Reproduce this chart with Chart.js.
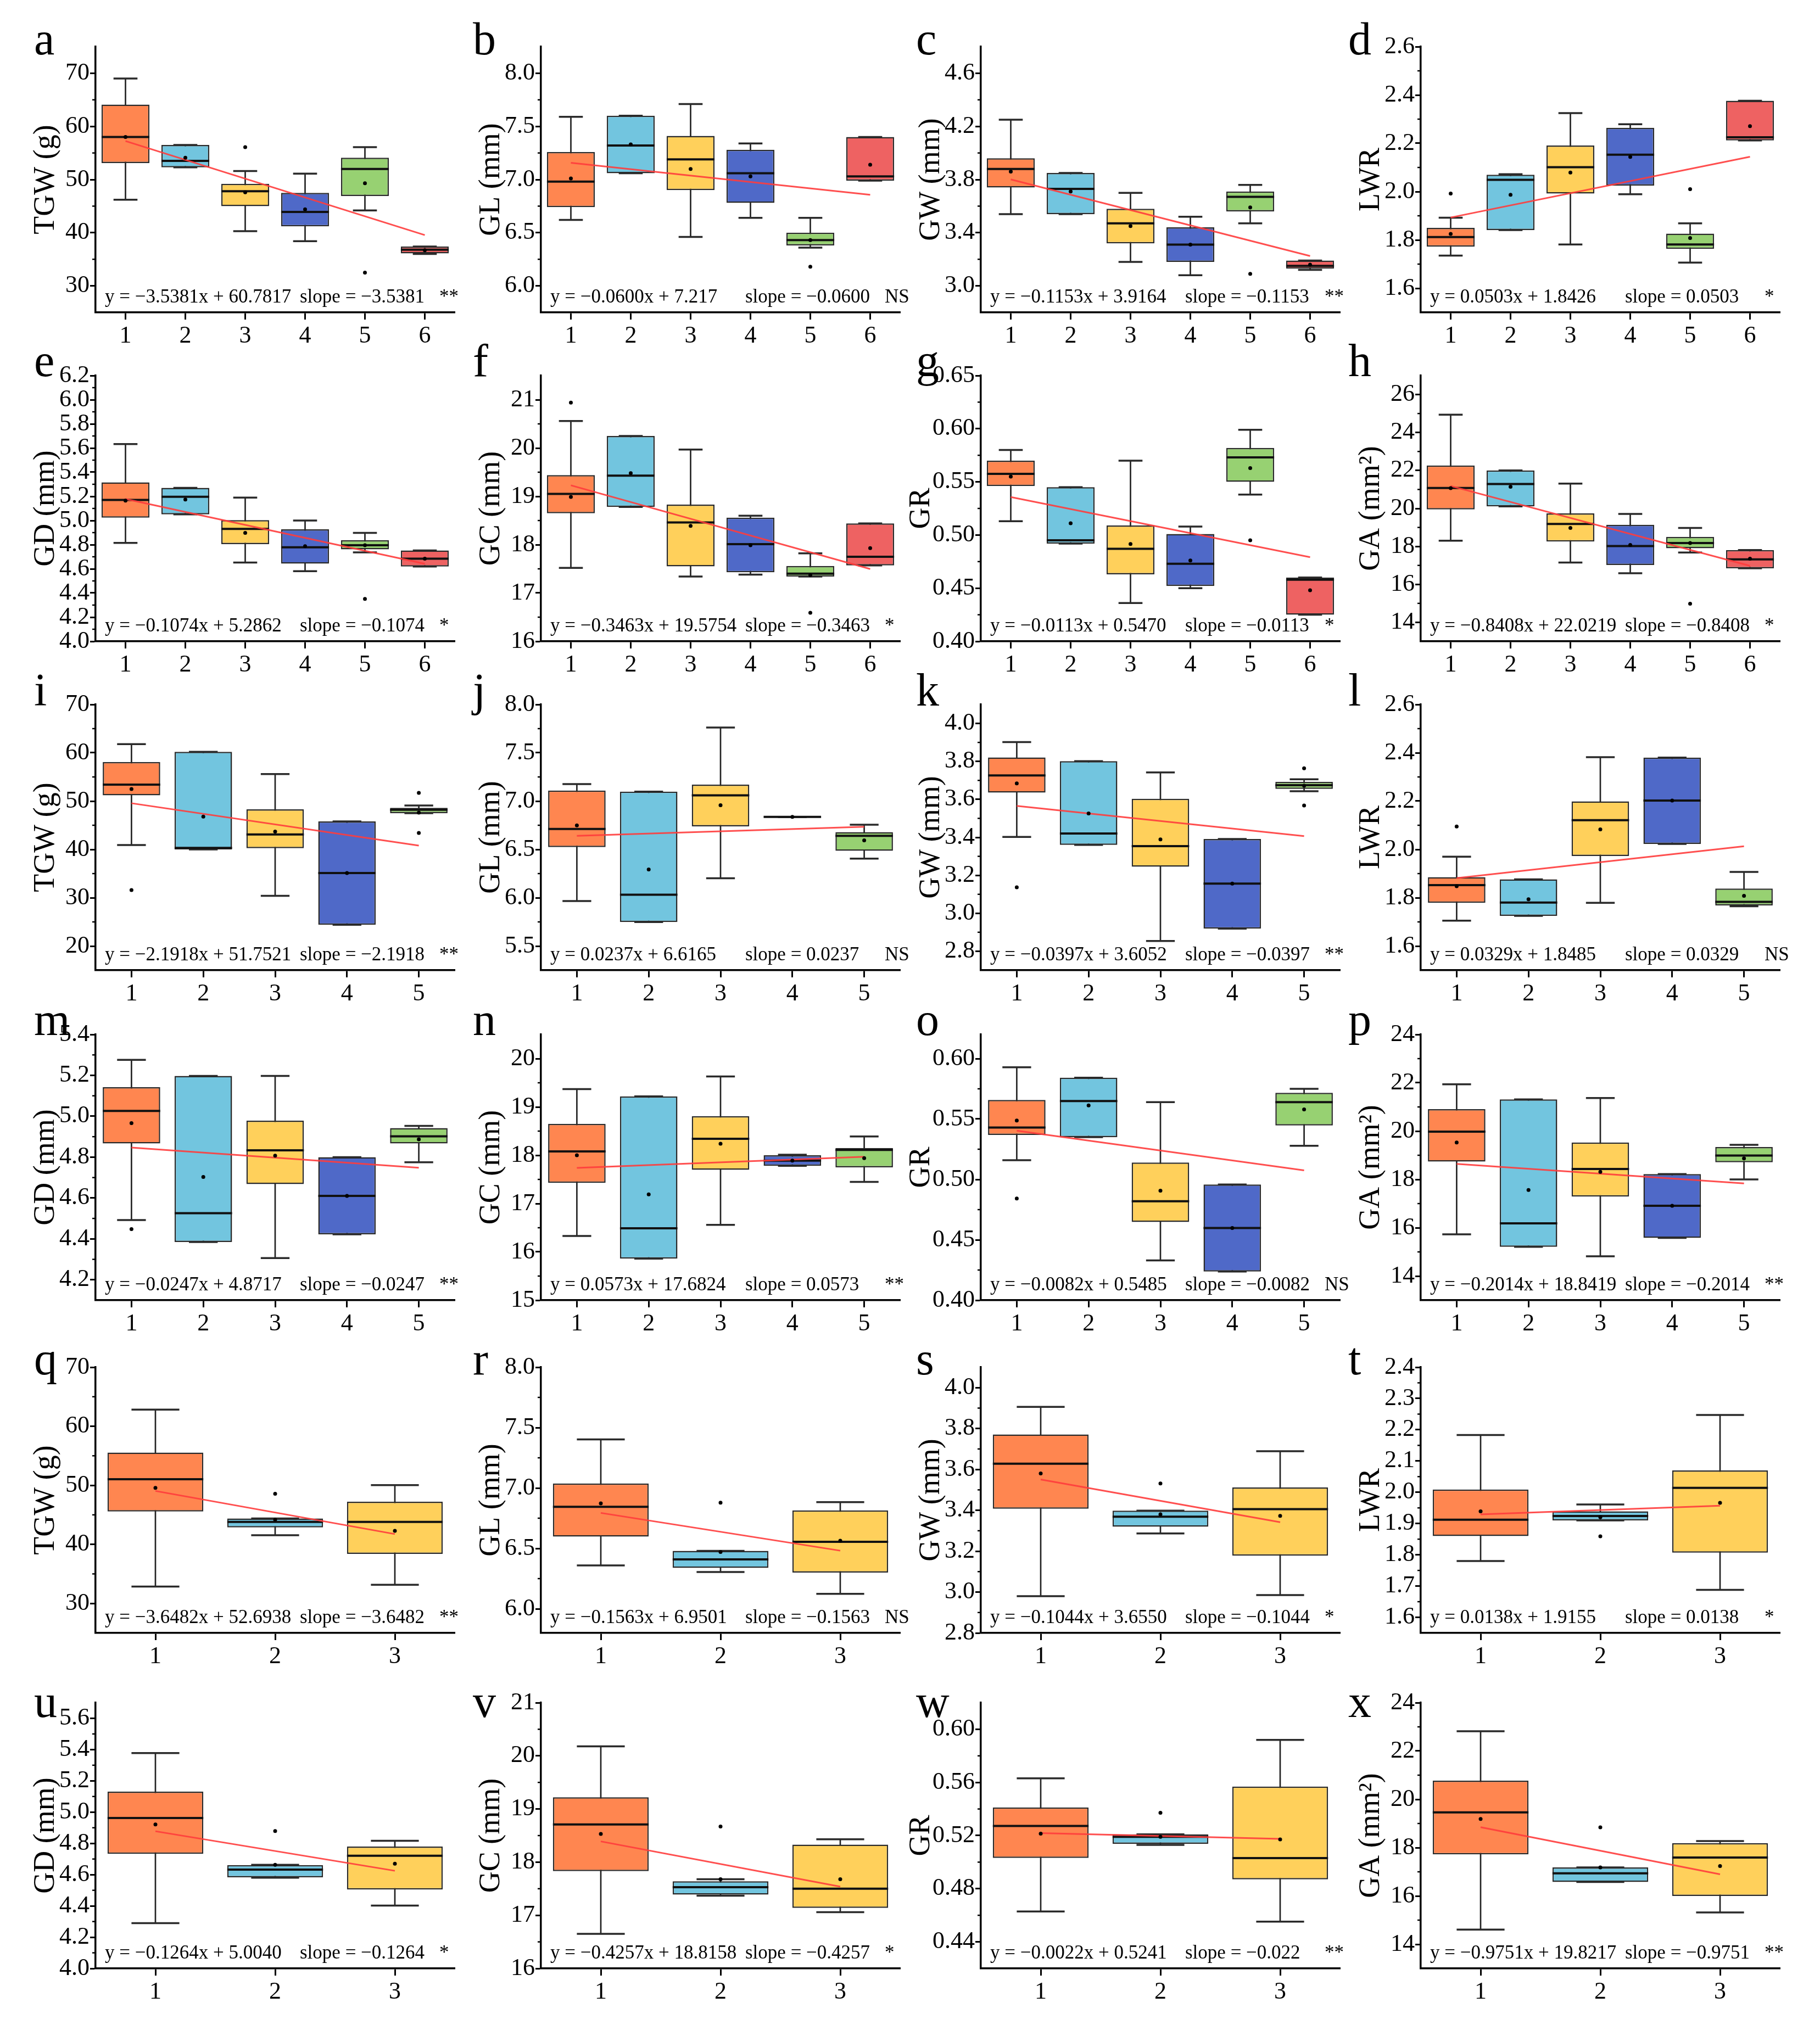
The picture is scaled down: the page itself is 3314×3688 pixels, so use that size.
<!DOCTYPE html>
<html>
<head>
<meta charset="utf-8">
<title>Grain traits by group</title>
<script src="https://cdn.jsdelivr.net/npm/chart.js@4.4.1/dist/chart.umd.min.js"></script>
<style>
  html, body { margin: 0; padding: 0; background: #fff; }
  #figure { position: relative; width: 3314px; height: 3688px; overflow: hidden; background: #fff; }
  #figure canvas { position: absolute; }
</style>
</head>
<body>
<div id="figure"></div>
<script>
// panel letters, y titles and x categories
const panelLetters = ['a','b','c','d','e','f','g','h','i','j','k','l','m','n','o','p','q','r','s','t','u','v','w','x'];
const yTitles = ['TGW (g)', 'GL (mm)', 'GW (mm)', 'LWR', 'GD (mm)', 'GC (mm)', 'GR', 'GA (mm²)',
                 'TGW (g)', 'GL (mm)', 'GW (mm)', 'LWR', 'GD (mm)', 'GC (mm)', 'GR', 'GA (mm²)',
                 'TGW (g)', 'GL (mm)', 'GW (mm)', 'LWR', 'GD (mm)', 'GC (mm)', 'GR', 'GA (mm²)'];
const categoryLabels = ['1', '2', '3', '4', '5', '6'];
const groupCounts = [6,6,6,6, 6,6,6,6, 5,5,5,5, 5,5,5,5, 3,3,3,3, 3,3,3,3];

// box statistics, one list per panel
const whiskerLow = [
  [46.2, 52.3, 40.3, 38.4, 44.2, 36.0], [6.62, 7.06, 6.46, 6.64, 6.36, 6.99],
  [3.54, 3.54, 3.18, 3.08, 3.47, 3.12], [1.735, 1.841, 1.781, 1.989, 1.706, 2.212],
  [4.815, 5.051, 4.652, 4.581, 4.736, 4.619], [17.52, 18.78, 17.34, 17.38, 17.34, 17.57],
  [0.513, 0.492, 0.436, 0.450, 0.538, 0.425], [18.30, 20.11, 17.15, 16.59, 17.68, 16.85],
  [40.9, 40.0, 30.4, 24.4, 47.5], [5.966, 5.748, 6.202, 6.837, 6.405],
  [3.402, 3.360, 2.854, 2.919, 3.643], [1.705, 1.725, 1.779, 2.023, 1.765],
  [4.492, 4.385, 4.306, 4.422, 4.775], [16.33, 15.86, 16.56, 17.78, 17.45],
  [0.5159, 0.5350, 0.4329, 0.4238, 0.5278], [15.73, 15.21, 14.82, 15.58, 18.0],
  [32.86, 41.56, 33.16], [6.359, 6.305, 6.124], [2.980, 3.287, 2.985], [1.780, 1.910, 1.688],
  [4.290, 4.580, 4.402], [16.65, 17.37, 17.06], [0.4629, 0.5130, 0.4552], [14.61, 16.58, 15.32]
];
const quartile1 = [
  [53.1, 52.3, 45.0, 41.2, 46.9, 36.1], [6.74, 7.06, 6.90, 6.78, 6.38, 6.99],
  [3.74, 3.54, 3.32, 3.18, 3.56, 3.13], [1.772, 1.841, 1.992, 2.025, 1.763, 2.212],
  [5.024, 5.051, 4.805, 4.643, 4.761, 4.619], [18.65, 18.78, 17.55, 17.43, 17.34, 17.57],
  [0.546, 0.492, 0.463, 0.452, 0.550, 0.425], [19.95, 20.11, 18.26, 17.02, 17.90, 16.85],
  [51.2, 40.0, 40.25, 24.4, 47.5], [6.524, 5.748, 6.738, 6.837, 6.486],
  [3.636, 3.360, 3.245, 2.919, 3.655], [1.779, 1.725, 1.973, 2.023, 1.768],
  [4.867, 4.385, 4.668, 4.422, 4.867], [17.43, 15.86, 17.70, 17.78, 17.75],
  [0.5368, 0.5350, 0.4648, 0.4238, 0.5447], [18.74, 15.21, 17.29, 15.58, 18.71],
  [45.56, 42.88, 38.40], [6.598, 6.339, 6.300], [3.408, 3.320, 3.178], [1.860, 1.910, 1.807],
  [4.733, 4.583, 4.505], [17.83, 17.39, 17.14], [0.5032, 0.5138, 0.4870], [17.72, 16.58, 16.00]
];
const medians = [
  [58.0, 53.5, 47.8, 43.9, 52.0, 36.8], [6.98, 7.32, 7.19, 7.06, 6.43, 7.03],
  [3.88, 3.73, 3.47, 3.31, 3.67, 3.15], [1.812, 2.049, 2.101, 2.153, 1.781, 2.225],
  [5.17, 5.197, 4.931, 4.778, 4.796, 4.684], [19.05, 19.43, 18.46, 18.01, 17.40, 17.75],
  [0.5575, 0.495, 0.487, 0.473, 0.573, 0.458], [21.08, 21.29, 19.18, 18.02, 18.18, 17.32],
  [53.4, 40.3, 43.1, 35.1, 48.2], [6.711, 6.031, 7.059, 6.837, 6.641],
  [3.726, 3.420, 3.354, 3.156, 3.675], [1.852, 1.780, 2.121, 2.202, 1.783],
  [5.026, 4.526, 4.833, 4.610, 4.902], [18.08, 16.49, 18.34, 17.89, 18.11],
  [0.5429, 0.5649, 0.4819, 0.4598, 0.5640], [19.98, 16.18, 18.43, 16.91, 18.99],
  [51.03, 43.80, 43.80], [6.844, 6.409, 6.555], [3.628, 3.369, 3.406], [1.912, 1.924, 2.014],
  [4.962, 4.632, 4.721], [18.71, 17.53, 17.50], [0.5272, 0.5191, 0.5031], [19.46, 16.94, 17.59]
];
const quartile3 = [
  [64.1, 56.5, 49.2, 47.5, 54.1, 37.4], [7.26, 7.60, 7.41, 7.28, 6.50, 7.40],
  [3.96, 3.85, 3.58, 3.44, 3.71, 3.19], [1.850, 2.070, 2.191, 2.264, 1.826, 2.376],
  [5.316, 5.271, 5.003, 4.927, 4.837, 4.752], [19.44, 20.25, 18.83, 18.56, 17.56, 18.44],
  [0.570, 0.545, 0.509, 0.501, 0.582, 0.460], [22.26, 22.00, 19.74, 19.14, 18.50, 17.81],
  [58.1, 60.2, 48.3, 45.8, 48.6], [7.109, 7.098, 7.170, 6.837, 6.679],
  [3.821, 3.801, 3.603, 3.391, 3.692], [1.885, 1.876, 2.199, 2.380, 1.838],
  [5.142, 5.197, 4.978, 4.800, 4.942], [18.65, 19.22, 18.81, 18.00, 18.15],
  [0.5658, 0.5842, 0.5140, 0.4958, 0.5717], [20.91, 21.31, 19.53, 18.22, 19.34],
  [55.54, 44.39, 47.21], [7.038, 6.479, 6.815], [3.771, 3.398, 3.512], [2.009, 1.939, 2.070],
  [5.131, 4.661, 4.780], [19.22, 17.64, 18.33], [0.5412, 0.5209, 0.5569], [20.77, 17.18, 18.19]
];
const whiskerHigh = [
  [69.0, 56.5, 51.6, 51.1, 56.1, 37.4], [7.59, 7.60, 7.71, 7.34, 6.64, 7.40],
  [4.25, 3.85, 3.70, 3.52, 3.76, 3.19], [1.892, 2.072, 2.325, 2.279, 1.869, 2.376],
  [5.633, 5.271, 5.19, 5.0, 4.898, 4.752], [20.56, 20.25, 19.97, 18.60, 17.82, 18.44],
  [0.580, 0.545, 0.570, 0.508, 0.599, 0.460], [24.94, 22.00, 21.31, 19.71, 18.97, 17.81],
  [61.8, 60.2, 55.6, 45.8, 49.1], [7.176, 7.098, 7.761, 6.837, 6.756],
  [3.902, 3.801, 3.742, 3.391, 3.706], [1.970, 1.876, 2.382, 2.380, 1.907],
  [5.276, 5.197, 5.197, 4.800, 4.953], [19.37, 19.22, 19.63, 18.01, 18.39],
  [0.5928, 0.5842, 0.5640, 0.4958, 0.5750], [21.94, 21.31, 21.37, 18.22, 19.43],
  [62.81, 44.39, 50.04], [7.402, 6.479, 6.883], [3.906, 3.398, 3.689], [2.183, 1.961, 2.247],
  [5.378, 4.663, 4.817], [20.18, 17.68, 18.43], [0.5631, 0.5209, 0.5920], [22.82, 17.18, 18.27]
];
const means = [
  [58.0, 54.1, 47.6, 44.4, 49.3, 36.7], [7.01, 7.33, 7.10, 7.03, 6.43, 7.14],
  [3.86, 3.71, 3.45, 3.31, 3.59, 3.16], [1.825, 1.987, 2.079, 2.144, 1.808, 2.271],
  [5.165, 5.174, 4.898, 4.787, 4.796, 4.684], [18.99, 19.48, 18.39, 17.99, 17.37, 17.93],
  [0.555, 0.511, 0.4915, 0.476, 0.563, 0.448], [21.07, 21.14, 18.97, 18.08, 18.18, 17.35],
  [52.5, 46.8, 43.7, 35.1, 47.6], [6.749, 6.292, 6.958, 6.837, 6.594],
  [3.684, 3.526, 3.389, 3.156, 3.672], [1.848, 1.794, 2.083, 2.202, 1.808],
  [4.966, 4.703, 4.807, 4.610, 4.887], [18.00, 17.19, 18.24, 17.89, 17.94],
  [0.5487, 0.5613, 0.4907, 0.4598, 0.5579], [19.53, 17.56, 18.31, 16.91, 18.87],
  [49.56, 44.17, 42.29], [6.873, 6.470, 6.564], [3.580, 3.380, 3.373], [1.939, 1.920, 1.966],
  [4.921, 4.663, 4.670], [18.53, 17.68, 17.68], [0.5214, 0.5191, 0.5171], [19.19, 17.18, 17.24]
];
// outliers as [category, value]
const outliers = [
  [[3, 56.1], [5, 32.5]], [[5, 6.18]], [[5, 3.09]], [[1, 1.992], [5, 2.010]],
  [[5, 4.351]], [[1, 20.94], [5, 16.59]], [[5, 0.495]], [[5, 14.98]],
  [[1, 31.6], [5, 51.7], [5, 43.4]], [], [[1, 3.137], [5, 3.764], [5, 3.568]], [[1, 2.095]],
  [[1, 4.448]], [], [[1, 0.4842]], [],
  [[2, 48.57]], [[2, 6.878]], [[2, 3.531]], [[2, 1.859]],
  [[2, 4.879]], [[2, 18.67]], [[2, 0.5371]], [[2, 18.84]]
];

// fitted line ends (first and last group) and the printed equations
const fitStart = [57.244, 7.157, 3.8011, 1.8929, 5.1788, 19.2291, 0.5357, 21.1811,
                  49.5603, 6.6402, 3.5655, 1.8814, 4.8470, 17.7397, 0.5403, 18.6405,
                  49.0456, 6.7938, 3.5506, 1.9293, 4.8776, 18.3901, 0.5219, 18.8466];
const fitEnd = [39.5531, 6.857, 3.2246, 2.1444, 4.6418, 17.4976, 0.4792, 16.9771,
                40.7931, 6.7350, 3.4067, 2.0130, 4.7482, 17.9689, 0.5075, 17.8349,
                41.7492, 6.4812, 3.3418, 1.9569, 4.6248, 17.5387, 0.5175, 16.8964];
const equations = [
  'y = −3.5381x + 60.7817', 'y = −0.0600x + 7.217', 'y = −0.1153x + 3.9164', 'y = 0.0503x + 1.8426',
  'y = −0.1074x + 5.2862', 'y = −0.3463x + 19.5754', 'y = −0.0113x + 0.5470', 'y = −0.8408x + 22.0219',
  'y = −2.1918x + 51.7521', 'y = 0.0237x + 6.6165', 'y = −0.0397x + 3.6052', 'y = 0.0329x + 1.8485',
  'y = −0.0247x + 4.8717', 'y = 0.0573x + 17.6824', 'y = −0.0082x + 0.5485', 'y = −0.2014x + 18.8419',
  'y = −3.6482x + 52.6938', 'y = −0.1563x + 6.9501', 'y = −0.1044x + 3.6550', 'y = 0.0138x + 1.9155',
  'y = −0.1264x + 5.0040', 'y = −0.4257x + 18.8158', 'y = −0.0022x + 0.5241', 'y = −0.9751x + 19.8217'
];
const slopeTexts = [
  'slope = −3.5381', 'slope = −0.0600', 'slope = −0.1153', 'slope = 0.0503',
  'slope = −0.1074', 'slope = −0.3463', 'slope = −0.0113', 'slope = −0.8408',
  'slope = −2.1918', 'slope = 0.0237', 'slope = −0.0397', 'slope = 0.0329',
  'slope = −0.0247', 'slope = 0.0573', 'slope = −0.0082', 'slope = −0.2014',
  'slope = −3.6482', 'slope = −0.1563', 'slope = −0.1044', 'slope = 0.0138',
  'slope = −0.1264', 'slope = −0.4257', 'slope = −0.022', 'slope = −0.9751'
];
const signif = ['**', 'NS', '**', '*', '*', '*', '*', '*', '**', 'NS', '**', 'NS',
                '**', '**', 'NS', '**', '**', 'NS', '*', '*', '*', '*', '**', '**'];

// y axes: range, labelled ticks, decimals
const yMin = [25, 5.75, 2.8, 1.5, 4.0, 16, 0.40, 13, 15, 5.25, 2.7, 1.5, 4.1, 15, 0.40, 13, 25, 5.8, 2.8, 1.55, 4.0, 16, 0.42, 13];
const yMax = [75, 8.25, 4.8, 2.6, 6.2, 21.5, 0.65, 27, 70, 8.0, 4.1, 2.6, 5.4, 20.5, 0.62, 24, 70, 8.0, 4.1, 2.4, 5.7, 21, 0.62, 24];
const yTicks = [
  [30, 40, 50, 60, 70], [6.0, 6.5, 7.0, 7.5, 8.0], [3.0, 3.4, 3.8, 4.2, 4.6], [1.6, 1.8, 2.0, 2.2, 2.4, 2.6],
  [4.0, 4.2, 4.4, 4.6, 4.8, 5.0, 5.2, 5.4, 5.6, 5.8, 6.0, 6.2], [16, 17, 18, 19, 20, 21],
  [0.40, 0.45, 0.50, 0.55, 0.60, 0.65], [14, 16, 18, 20, 22, 24, 26],
  [20, 30, 40, 50, 60, 70], [5.5, 6.0, 6.5, 7.0, 7.5, 8.0], [2.8, 3.0, 3.2, 3.4, 3.6, 3.8, 4.0], [1.6, 1.8, 2.0, 2.2, 2.4, 2.6],
  [4.2, 4.4, 4.6, 4.8, 5.0, 5.2, 5.4], [15, 16, 17, 18, 19, 20], [0.40, 0.45, 0.50, 0.55, 0.60], [14, 16, 18, 20, 22, 24],
  [30, 40, 50, 60, 70], [6.0, 6.5, 7.0, 7.5, 8.0], [2.8, 3.0, 3.2, 3.4, 3.6, 3.8, 4.0], [1.6, 1.7, 1.8, 1.9, 2.0, 2.1, 2.2, 2.3, 2.4],
  [4.0, 4.2, 4.4, 4.6, 4.8, 5.0, 5.2, 5.4, 5.6], [16, 17, 18, 19, 20, 21], [0.44, 0.48, 0.52, 0.56, 0.60], [14, 16, 18, 20, 22, 24]
];
const tickDecimals = [0, 1, 1, 1, 1, 0, 2, 0, 0, 1, 1, 1, 1, 0, 2, 0, 0, 1, 1, 1, 1, 0, 2, 0];

// layout (pixels)
const AXIS_X = [174, 985, 1786, 2587];
const PLOT_TOP = [85, 684, 1283, 1884, 2490, 3101];
const PLOT_W = 654, PLOT_H = 484;
const PAD_L = 180, PAD_T = 90, PAD_R = 30, PAD_B = 75;
const LETTER_DX = [-112, -124, -118, -132];
const LETTER_DY = [14, 1, 2, 1, 13, 26];
const TITLE_SIZE = 54;
const SERIF = '"Liberation Serif", "Times New Roman", serif';
const boxColors = ['#FF8650', '#72C5DF', '#FFD05B', '#4F69C8', '#97D172', '#EE6262'];

Chart.defaults.font.family = SERIF;
Chart.defaults.color = '#000';

// medians, whisker caps, minor ticks and panel texts
const boxPlotExtras = {
  id: 'boxPlotExtras',
  afterDatasetDraw(chart, args, opts) {
    if (args.index !== 1) return;
    const p = opts.panel;
    const ctx = chart.ctx, y = chart.scales.y, x = chart.scales.x;
    const step = x.getPixelForValue(1) - x.getPixelForValue(0);
    ctx.save();
    args.meta.data.forEach((bar, i) => {
      const {x: cx, width} = bar.getProps(['x', 'width'], true);
      ctx.strokeStyle = '#2a2a2a';
      ctx.lineWidth = 3.5;
      [whiskerLow[p][i], whiskerHigh[p][i]].forEach(v => {
        const py = y.getPixelForValue(v);
        ctx.beginPath();
        ctx.moveTo(cx - step * 0.2, py);
        ctx.lineTo(cx + step * 0.2, py);
        ctx.stroke();
      });
      const my = y.getPixelForValue(medians[p][i]);
      ctx.strokeStyle = '#111';
      ctx.lineWidth = 4;
      ctx.beginPath();
      ctx.moveTo(cx - width / 2, my);
      ctx.lineTo(cx + width / 2, my);
      ctx.stroke();
    });
    ctx.restore();
  },
  afterDraw(chart, args, opts) {
    const p = opts.panel;
    const col = p % 4, row = Math.floor(p / 4);
    const ctx = chart.ctx, y = chart.scales.y;
    const {left, top, bottom} = chart.chartArea;
    ctx.save();
    // minor ticks halfway between labelled ones
    const t = yTicks[p], half = (t[1] - t[0]) / 2;
    ctx.strokeStyle = '#000';
    ctx.lineWidth = 2.5;
    for (let v = t[0] - half; v < yMax[p] + half; v += 2 * half) {
      if (v <= yMin[p] + 1e-9 || v >= yMax[p] - 1e-9) continue;
      const py = y.getPixelForValue(v);
      ctx.beginPath();
      ctx.moveTo(left, py);
      ctx.lineTo(left - 6, py);
      ctx.stroke();
    }
    ctx.fillStyle = '#000';
    ctx.textBaseline = 'alphabetic';
    ctx.textAlign = 'left';
    ctx.font = '84px ' + SERIF;
    ctx.fillText(panelLetters[p], left + LETTER_DX[col], top + LETTER_DY[row]);
    ctx.font = '35px ' + SERIF;
    ctx.fillText(equations[p], left + 17, bottom - 18);
    ctx.fillText(slopeTexts[p], left + 372, bottom - 18);
    ctx.fillText(signif[p], left + 626, bottom - 18);
    ctx.restore();
  }
};

function makePanel(p) {
  const col = p % 4, row = Math.floor(p / 4);
  const n = groupCounts[p];
  const labels = categoryLabels.slice(0, n);
  const w = PAD_L + PLOT_W + PAD_R, h = PAD_T + PLOT_H + PAD_B;

  const canvas = document.createElement('canvas');
  canvas.width = w;
  canvas.height = h;
  canvas.style.left = (AXIS_X[col] - PAD_L) + 'px';
  canvas.style.top = (PLOT_TOP[row] - PAD_T) + 'px';
  canvas.style.width = w + 'px';
  canvas.style.height = h + 'px';
  document.getElementById('figure').appendChild(canvas);

  // distance from the y axis to the centre of its title
  const titleGap = tickDecimals[p] === 2 ? 108 : 90;

  new Chart(canvas.getContext('2d'), {
    type: 'bar',
    data: {
      labels: labels,
      datasets: [{
        // whisker stems
        data: labels.map((_, i) => [whiskerLow[p][i], whiskerHigh[p][i]]),
        backgroundColor: '#222',
        barThickness: 2,
        grouped: false,
        order: 5
      }, {
        // boxes
        data: labels.map((_, i) => [quartile1[p][i], quartile3[p][i]]),
        backgroundColor: boxColors.slice(0, n),
        borderColor: '#2a2a2a',
        borderWidth: 2.5,
        borderSkipped: false,
        barPercentage: 0.8,
        categoryPercentage: 1,
        grouped: false,
        order: 4
      }, {
        type: 'line',
        data: [{x: labels[0], y: fitStart[p]}, {x: labels[n - 1], y: fitEnd[p]}],
        borderColor: 'rgba(255, 60, 60, 0.9)',
        borderWidth: 3,
        pointRadius: 0,
        order: 2
      }, {
        type: 'line',
        data: means[p],
        showLine: false,
        pointRadius: 3.5,
        pointBorderWidth: 0,
        pointBackgroundColor: '#000',
        order: 1
      }, {
        type: 'line',
        data: outliers[p].map(o => ({x: String(o[0]), y: o[1]})),
        showLine: false,
        pointRadius: 3.5,
        pointBorderWidth: 0,
        pointBackgroundColor: '#000',
        order: 1
      }]
    },
    options: {
      responsive: false,
      animation: false,
      devicePixelRatio: 1,
      events: [],
      layout: { padding: { left: 0, top: PAD_T, right: PAD_R, bottom: 0 } },
      plugins: {
        legend: { display: false },
        tooltip: { enabled: false },
        boxPlotExtras: { panel: p }
      },
      scales: {
        x: {
          type: 'category',
          offset: true,
          afterFit: scale => { scale.height = PAD_B; },
          grid: { offset: false, drawOnChartArea: false, drawTicks: true, tickLength: 13, tickWidth: 3, tickColor: '#000' },
          border: { display: true, width: 3.5, color: '#000' },
          ticks: { font: { size: 44 }, color: '#000', padding: 4, autoSkip: false, maxRotation: 0 }
        },
        y: {
          type: 'linear',
          min: yMin[p],
          max: yMax[p],
          afterFit: scale => { scale.width = PAD_L; },
          afterBuildTicks: scale => { scale.ticks = yTicks[p].map(v => ({value: v})); },
          grid: { drawOnChartArea: false, drawTicks: true, tickLength: 10, tickWidth: 3, tickColor: '#000' },
          border: { display: true, width: 3.5, color: '#000' },
          ticks: {
            font: { size: 44 },
            color: '#000',
            padding: 1,
            autoSkip: false,
            callback: value => Number(value).toFixed(tickDecimals[p])
          },
          title: {
            display: true,
            text: yTitles[p],
            font: { size: TITLE_SIZE },
            color: '#000',
            padding: { top: PAD_L - titleGap - TITLE_SIZE * 0.6, bottom: 0 }
          }
        }
      }
    },
    plugins: [boxPlotExtras]
  });
}

for (let p = 0; p < panelLetters.length; p++) {
  makePanel(p);
}
</script>
</body>
</html>
